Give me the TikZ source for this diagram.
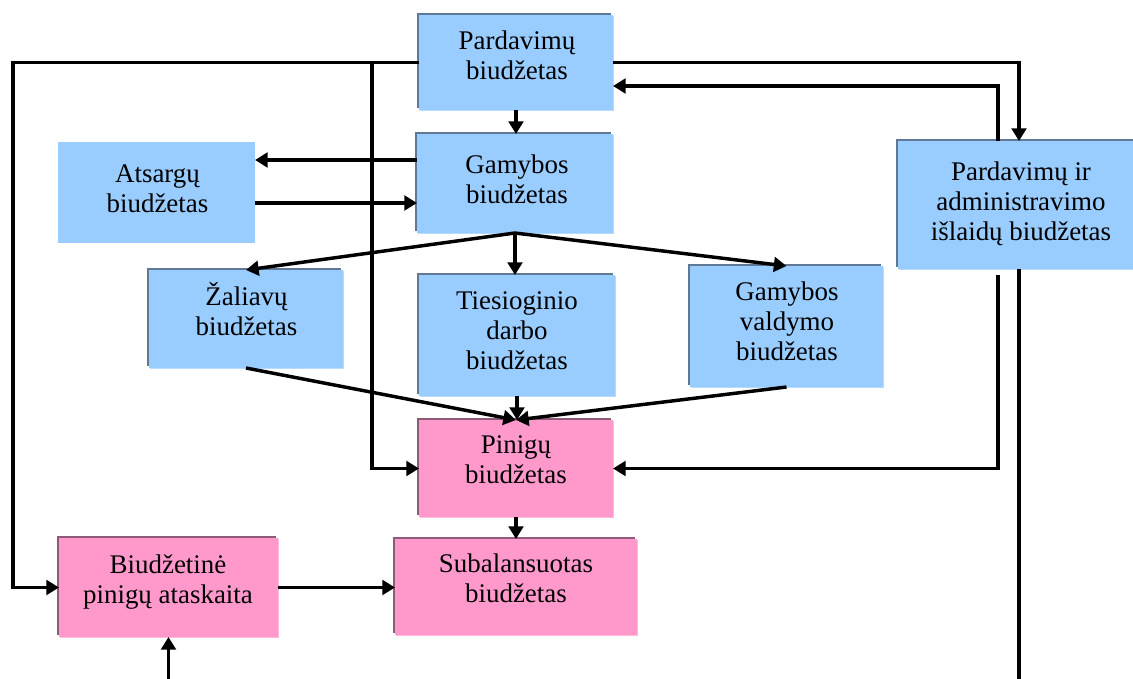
\documentclass[tikz,border=0pt]{standalone}
\usepackage{fontspec}
\setmainfont{Liberation Serif}
\usetikzlibrary{arrows.meta,shadows}

\definecolor{boxblue}{HTML}{99CCFF}
\definecolor{blueedge}{HTML}{5E7896}
\definecolor{bluefringe}{HTML}{B6DBFF}
\definecolor{boxpink}{HTML}{FF99CC}
\definecolor{pinkedge}{HTML}{8E5A77}
\definecolor{pinkfringe}{HTML}{FFBADD}

% first-line strut so every label hangs from a fixed baseline
\newcommand{\labelstrut}{\rule{0pt}{19pt}}

\begin{document}
\begin{tikzpicture}[x=0.75pt,y=-0.75pt,
  boxbase/.style={rectangle, inner sep=0pt, outer sep=0pt},
  plainblue/.style={boxbase, fill=boxblue},
  bluebox/.style={boxbase, fill=boxblue,
    general shadow={fill=bluefringe, shadow xshift=1.1pt, shadow yshift=-1.1pt},
    general shadow={fill=blueedge, shadow xshift=-1.6pt, shadow yshift=1.6pt}},
  pinkbox/.style={boxbase, fill=boxpink,
    general shadow={fill=pinkfringe, shadow xshift=1.1pt, shadow yshift=-1.1pt},
    general shadow={fill=pinkedge, shadow xshift=-1.6pt, shadow yshift=1.6pt}},
  boxtext/.style={anchor=north, align=center, inner sep=0pt,
    font=\fontsize{20.2}{22.5}\selectfont},
  link/.style={line width=2.6pt, draw=black},
  arrowlink/.style={link, -{Triangle[length=9.5pt,width=11pt]}}
]
\useasboundingbox (0,0) rectangle (1133,679);
\clip (0,0) rectangle (1133,679);

% budget boxes
\node[bluebox, minimum width=145.5pt, minimum height=71.25pt] (pard) at (516,62.5) {};
\node[bluebox, minimum width=147pt, minimum height=74.25pt] (gam) at (515,183.5) {};
\node[plainblue, minimum width=147.75pt, minimum height=75.75pt] (ats) at (156.5,192.5) {};
\node[bluebox, minimum width=181.5pt, minimum height=96pt] (admin) at (1019,205) {};
\node[bluebox, minimum width=145.5pt, minimum height=73.5pt] (zal) at (246,319) {};
\node[bluebox, minimum width=147pt, minimum height=90.75pt] (ties) at (517,335.5) {};
\node[bluebox, minimum width=144.75pt, minimum height=90.75pt] (vald) at (786.5,326.5) {};
\node[pinkbox, minimum width=145.5pt, minimum height=72.75pt] (pin) at (516,468.5) {};
\node[pinkbox, minimum width=164.25pt, minimum height=74.25pt] (biud) at (168.5,587.5) {};
\node[pinkbox, minimum width=181.5pt, minimum height=72pt] (sub) at (516,587) {};

% box labels
\node[boxtext] (pardT) at (517,23.7) {\labelstrut Pardavimų\\biudžetas};
\node[boxtext] (gamT) at (517,147.7) {\labelstrut Gamybos\\biudžetas};
\node[boxtext] (atsT) at (157.5,156.7) {\labelstrut Atsargų\\biudžetas};
\node[boxtext] (adminT) at (1021,154.7) {\labelstrut Pardavimų ir\\administravimo\\išlaidų biudžetas};
\node[boxtext] (zalT) at (246.5,279.7) {\labelstrut Žaliavų\\biudžetas};
\node[boxtext] (tiesT) at (517,283.7) {\labelstrut Tiesioginio\\darbo\\biudžetas};
\node[boxtext] (valdT) at (787,274.7) {\labelstrut Gamybos\\valdymo\\biudžetas};
\node[boxtext] (pinT) at (516,427.7) {\labelstrut Pinigų\\biudžetas};
\node[boxtext] (biudT) at (168,547.7) {\labelstrut Biudžetinė\\pinigų ataskaita};
\node[boxtext] (subT) at (516,546.7) {\labelstrut Subalansuotas\\biudžetas};

% routing points
\coordinate (leftcol) at (13,300);
\coordinate (cashcol) at (372,300);
\coordinate (back) at (998,86);
\coordinate (backlow) at (998,275);
\coordinate (toats) at (300,160);
\coordinate (fromats) at (300,203);
\coordinate (bottomR) at (1020,679);
\coordinate (bottomL) at (168.5,679);

% connectors from the sales budget
\draw[arrowlink] (pard.west) -| (leftcol) |- (biud.west);
\draw[arrowlink] (pard.west -| cashcol) |- (pin.west);
\draw[arrowlink] (pard.east) -| (admin.north);
\draw[arrowlink] (admin.north -| back) |- (pard.east |- back);
\draw[arrowlink] (pard.south) -- (pard.south |- gam.north);

% production and inventory
\draw[arrowlink] (gam.west |- toats) -- (ats.east |- toats);
\draw[arrowlink] (ats.east |- fromats) -- (gam.west |- fromats);

% production to its sub-budgets
\draw[arrowlink] (gam.south) -- (zal.north);
\draw[arrowlink] (gam.south) -- (gam.south |- ties.north);
\draw[arrowlink] (gam.south) -- (vald.north);

% sub-budgets to the cash budget
\draw[arrowlink] (zal.south) -- (pin.north);
\draw[arrowlink] (ties.south) -- (ties.south |- pin.north);
\draw[arrowlink] (vald.south) -- (pin.north);
\draw[arrowlink] (backlow) |- (pin.east);
\draw[link] (admin.south) -- (admin.south |- bottomR);

% cash budget to the balanced budget
\draw[arrowlink] (pin.south) -- (sub.north);
\draw[arrowlink] (biud.east) -- (biud.east -| sub.west);
\draw[arrowlink] (bottomL) -- (biud.south);
\end{tikzpicture}
\end{document}
